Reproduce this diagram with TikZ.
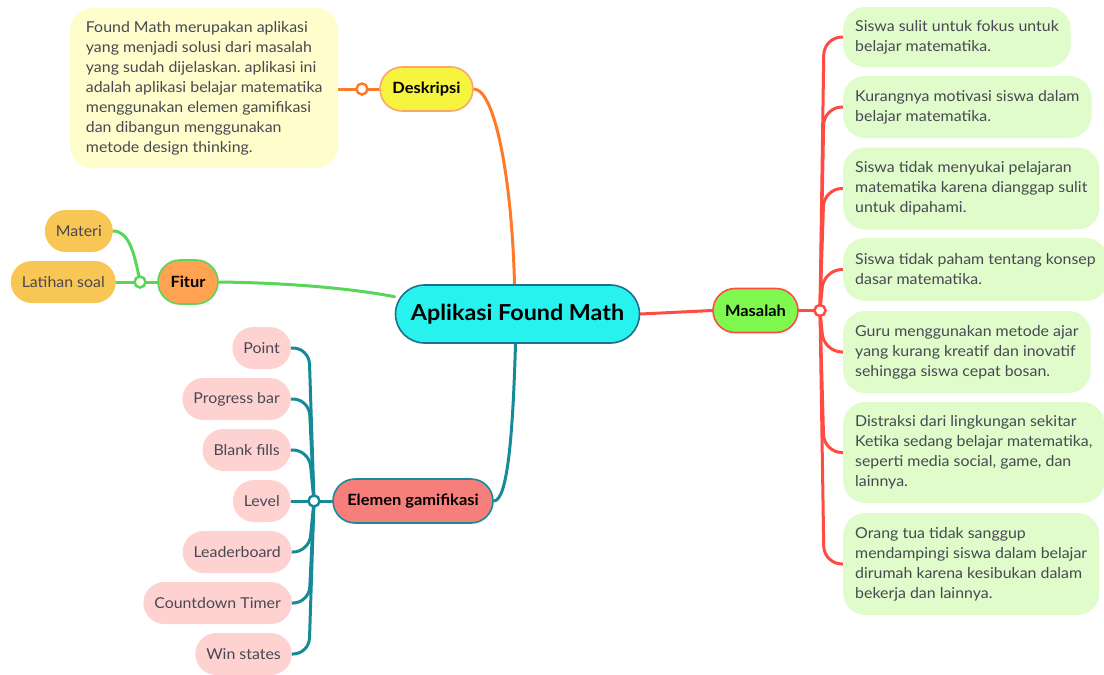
\documentclass[tikz,border=0pt]{standalone}
\usepackage{fontspec}
\setmainfont{Lato}[FakeStretch=1.06]
\usetikzlibrary{calc}
\frenchspacing

\definecolor{coreFill}{HTML}{27F2EE}
\definecolor{coreLine}{HTML}{206E8C}
\definecolor{deskFill}{HTML}{F6F43E}
\definecolor{deskLine}{HTML}{F8A868}
\definecolor{noteYellow}{HTML}{FFFDCB}
\definecolor{orangeLink}{HTML}{FF7A28}
\definecolor{fiturFill}{HTML}{FFA352}
\definecolor{greenLink}{HTML}{58D658}
\definecolor{gold}{HTML}{F8C655}
\definecolor{salmon}{HTML}{F77F7B}
\definecolor{tealLink}{HTML}{168A96}
\definecolor{pinkLeaf}{HTML}{FFD2D2}
\definecolor{masFill}{HTML}{7FF84F}
\definecolor{redLink}{HTML}{FF4B42}
\definecolor{noteGreen}{HTML}{DFFCCA}
\definecolor{leafText}{HTML}{484852}

\pgfdeclarelayer{background}
\pgfsetlayers{background,main}

\begin{document}
\begin{tikzpicture}[x=1pt,y=-1pt,
  topic/.style={draw, line width=1.6pt, rounded corners=22pt, minimum height=44pt,
    inner xsep=0pt, font=\fontsize{15.5}{18}\selectfont\bfseries, text=black},
  leaf/.style={rounded corners=21pt, minimum height=42pt, inner xsep=11pt,
    font=\fontsize{15}{20}\selectfont, text=leafText},
  note/.style={rounded corners=22pt, inner xsep=12pt, inner ysep=2pt, align=left,
    font=\fontsize{15}{20}\selectfont, text=leafText, fill=noteGreen},
  joint/.style={circle, draw, fill=white, line width=2.5pt, minimum size=11pt, inner sep=0pt},
  link/.style={line width=3pt, line cap=round}]
\useasboundingbox (0,0) rectangle (1104,675);

% central topic
\node[draw=coreLine, fill=coreFill, line width=1.6pt, rounded corners=29pt,
  minimum width=244pt, minimum height=58pt, inner sep=0pt,
  font=\fontsize{22}{26}\selectfont\bfseries] (core) at (517.5,314) {Aplikasi Found Math};

% Deskripsi branch
\node[topic, draw=deskLine, fill=deskFill, minimum width=93pt] (desk) at (426.5,89) {Deskripsi};
\node[anchor=north west, fill=noteYellow, rounded corners=22pt, minimum width=268pt,
  minimum height=160pt, align=left, inner sep=0pt,
  font=\fontsize{15}{20}\selectfont, text=leafText] (descr) at (70,8)
  {Found Math merupakan aplikasi\\yang menjadi solusi dari masalah\\yang sudah dijelaskan. aplikasi ini\\adalah aplikasi belajar matematika\\menggunakan elemen gamifikasi\\dan dibangun menggunakan\\metode design thinking.};
\node[joint, draw=orangeLink] (dj) at (362,89) {};

% Fitur branch
\node[topic, draw=greenLink, fill=fiturFill, minimum width=60pt] (fitur) at (188,282) {Fitur};
\node[joint, draw=greenLink] (fj) at (140,282) {};
\node[leaf, fill=gold, anchor=east] (materi) at (113,231) {Materi};
\node[leaf, fill=gold, anchor=east] (latihan) at (116,282) {Latihan soal};

% Elemen gamifikasi branch
\node[topic, draw=tealLink, fill=salmon, minimum width=160pt] (elemen) at (413,501) {Elemen gamifikasi};
\node[joint, draw=tealLink] (ej) at (314,501) {};
\coordinate (etrunk) at (309,501);
\node[leaf, fill=pinkLeaf, anchor=east] (g1) at (291,348) {Point};
\node[leaf, fill=pinkLeaf, anchor=east] (g2) at (291,399) {Progress bar};
\node[leaf, fill=pinkLeaf, anchor=east] (g3) at (291,450) {Blank fills};
\node[leaf, fill=pinkLeaf, anchor=east] (g4) at (291,501) {Level};
\node[leaf, fill=pinkLeaf, anchor=east] (g5) at (292,552) {Leaderboard};
\node[leaf, fill=pinkLeaf, anchor=east] (g6) at (292,603) {Countdown Timer};
\node[leaf, fill=pinkLeaf, anchor=east] (g7) at (292,654) {Win states};

% Masalah branch
\node[topic, draw=redLink, fill=masFill, minimum width=85pt] (masalah) at (755.5,310.5) {Masalah};
\node[joint, draw=redLink] (mj) at (820,310.5) {};
\coordinate (mtrunk) at (824,310);
\node[note, anchor=west, minimum height=60pt] (m1) at (843,37)
  {Siswa sulit untuk fokus untuk\\belajar matematika.};
\node[note, anchor=west, minimum height=62pt] (m2) at (843,107)
  {Kurangnya motivasi siswa dalam\\belajar matematika.};
\node[note, anchor=west, minimum height=82pt] (m3) at (843,188.5)
  {Siswa tidak menyukai pelajaran\\matematika karena dianggap sulit\\untuk dipahami.};
\node[note, anchor=west, minimum height=63pt] (m4) at (843,269.5)
  {Siswa tidak paham tentang konsep\\dasar matematika.};
\node[note, anchor=west, minimum height=82pt] (m5) at (843,352)
  {Guru menggunakan metode ajar\\yang kurang kreatif dan inovatif\\sehingga siswa cepat bosan.};
\node[note, anchor=west, minimum height=101pt] (m6) at (843,452.5)
  {Distraksi dari lingkungan sekitar\\Ketika sedang belajar matematika,\\seperti media social, game, dan\\lainnya.};
\node[note, anchor=west, minimum height=102pt] (m7) at (843,564)
  {Orang tua tidak sanggup\\mendampingi siswa dalam belajar\\dirumah karena kesibukan dalam\\bekerja dan lainnya.};

\begin{pgfonlayer}{background}
  % main branches
  \draw[link, orangeLink] (desk.east) .. controls (495,89) and (512,180) .. ([xshift=-3pt]core.north);
  \draw[link, greenLink] (fitur.east) .. controls (300,283) and (360,290) .. (core.172);
  \draw[link, tealLink] (elemen.east) .. controls (508,501) and (513,430) .. ([xshift=-2pt]core.south);
  \draw[link, redLink] (core.east) -- (masalah.west);

  % Deskripsi
  \draw[link, orangeLink] (descr.east |- desk) -- (desk.west);

  % Fitur
  \draw[link, greenLink] (fitur.west) -- (latihan.east);
  \draw[link, greenLink] (fj.center) .. controls (134,250) and (128,231) .. (materi.east);

  % Elemen gamifikasi
  \draw[link, tealLink] (elemen.west) -- (ej.center);
  \foreach \g in {g1,g2,g3,g4,g5,g6,g7}
    \draw[link, tealLink, rounded corners=16pt] (ej.center) -- (etrunk |- \g.east) -- (\g.east);

  % Masalah
  \draw[link, redLink] (masalah.east) -- (mj.center);
  \foreach \m in {m1,m2,m3,m4,m5,m6,m7}
    \draw[link, redLink, rounded corners=18pt] (mj.center) -- (mtrunk |- \m.west) -- (\m.west);
\end{pgfonlayer}
\end{tikzpicture}
\end{document}
